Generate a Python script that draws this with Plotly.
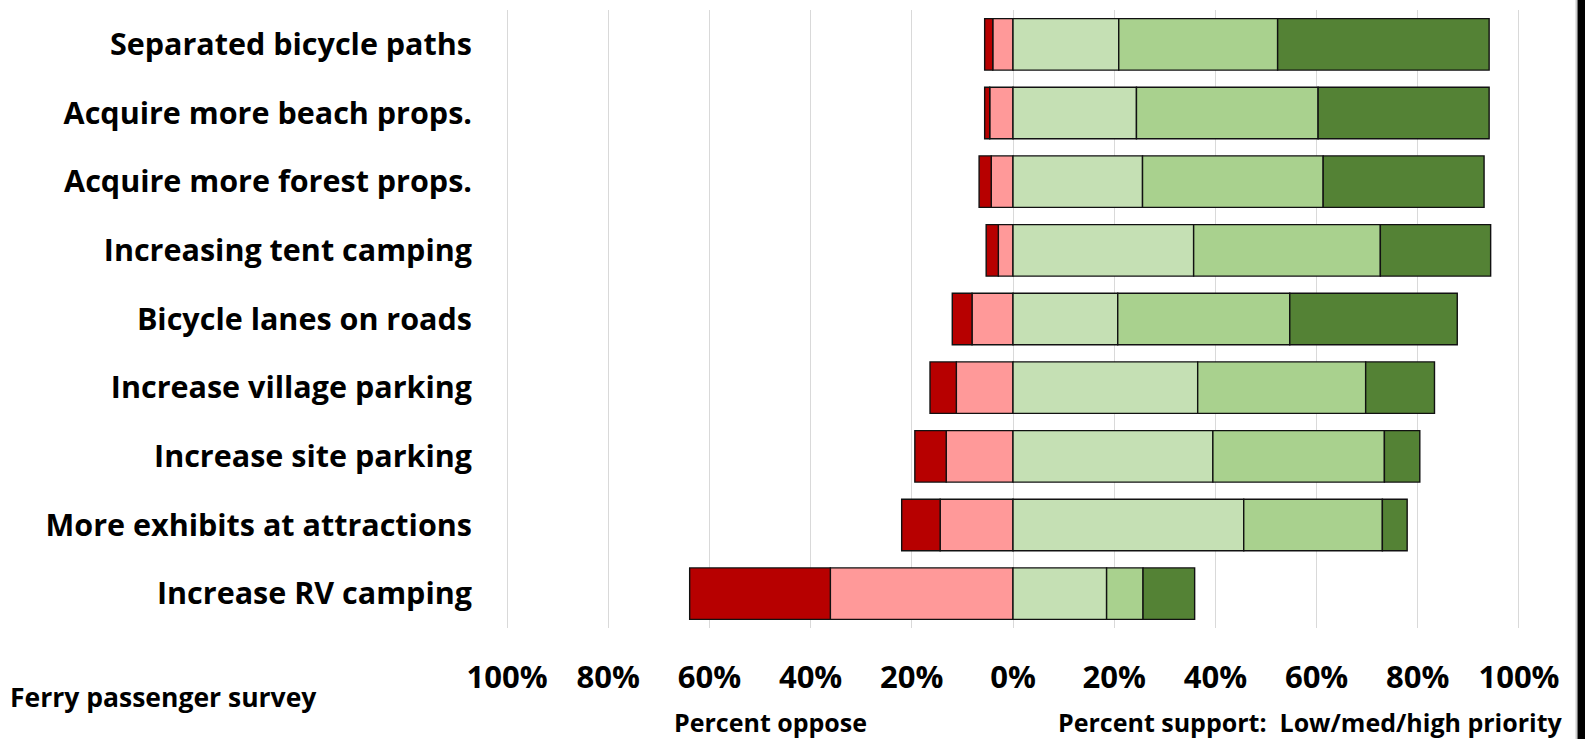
import plotly.graph_objects as go

categories = ["Separated bicycle paths", "Acquire more beach props.", "Acquire more forest props.",
              "Increasing tent camping", "Bicycle lanes on roads", "Increase village parking",
              "Increase site parking", "More exhibits at attractions", "Increase RV camping"]
strong_oppose = [1.6, 1.0, 2.4, 2.4, 3.9, 5.2, 6.2, 7.6, 27.8]
oppose = [4.0, 4.6, 4.3, 2.9, 8.1, 11.2, 13.2, 14.4, 36.1]
support_low = [20.9, 24.4, 25.6, 35.7, 20.7, 36.5, 39.5, 45.6, 18.5]
support_med = [31.4, 35.9, 35.7, 36.9, 34.0, 33.2, 33.9, 27.4, 7.2]
support_high = [41.8, 33.8, 31.8, 21.8, 33.1, 13.6, 7.0, 4.9, 10.2]
tick_vals = [-100, -80, -60, -40, -20, 0, 20, 40, 60, 80, 100]
tick_text = ["100%", "80%", "60%", "40%", "20%", "0%", "20%", "40%", "60%", "80%", "100%"]

FONT = "Open Sans"
W, H = 1585, 739
# plot area in page pixels
PX_L, PX_R, PX_T, PX_B = 506, 1520, 10, 628
L, R, T, B = PX_L, W - PX_R, PX_T, H - PX_B
pw, ph = W - L - R, H - T - B

fig = go.Figure()
series = [
    ("Oppose", [-v for v in oppose], "#FF9999"),
    ("Strongly oppose", [-v for v in strong_oppose], "#B70000"),
    ("Low priority", support_low, "#C5E0B4"),
    ("Medium priority", support_med, "#A9D18E"),
    ("High priority", support_high, "#548235"),
]
for name, vals, col in series:
    fig.add_trace(go.Bar(
        y=categories, x=vals, name=name, orientation="h",
        marker=dict(color=col, line=dict(color="#111111", width=1.4)),
        showlegend=False,
    ))

def py(p):  # page pixel y -> paper
    return (PX_B - p) / ph

def pxx(p):  # page pixel x -> paper
    return (p - PX_L) / pw

fig.update_layout(
    width=W, height=H,
    margin=dict(l=L, r=R, t=T, b=B),
    barmode="relative", bargap=0.25,
    plot_bgcolor="white", paper_bgcolor="white",
    font=dict(family=FONT, color="black"),
    xaxis=dict(range=[-100.2, 100.2], tickvals=tick_vals, ticktext=tick_text,
               showgrid=True, gridcolor="#D9D9D9", gridwidth=1.3, zeroline=False,
               showline=False, ticks="", ticklabelstandoff=28,
               tickfont=dict(family=FONT, size=31, color="black", weight="bold")),
    yaxis=dict(autorange="reversed", showgrid=False, zeroline=False, showline=False,
               ticks="", ticklabelstandoff=33,
               tickfont=dict(family=FONT, size=30.5, color="black", weight="bold")),
    annotations=[
        dict(text="Ferry passenger survey", xref="paper", yref="paper",
             x=pxx(8), y=py(697), xanchor="left", yanchor="middle",
             showarrow=False, font=dict(family=FONT, size=26.5, color="black", weight="bold")),
        dict(text="Percent oppose", xref="paper", yref="paper",
             x=pxx(672), y=py(722), xanchor="left", yanchor="middle",
             showarrow=False, font=dict(family=FONT, size=25, color="black", weight="bold")),
        dict(text="Percent support:  Low/med/high priority", xref="paper", yref="paper",
             x=pxx(1056), y=py(722), xanchor="left", yanchor="middle",
             showarrow=False, font=dict(family=FONT, size=25, color="black", weight="bold")),
    ],
    shapes=[
        dict(type="rect", xref="paper", yref="paper",
             x0=pxx(1575.5), x1=pxx(1577.5),
             y0=py(739), y1=py(0),
             fillcolor="#CCCCCC", line=dict(width=0), layer="above"),
        dict(type="rect", xref="paper", yref="paper",
             x0=pxx(1577.5), x1=pxx(1585),
             y0=py(739), y1=py(0),
             fillcolor="black", line=dict(width=0), layer="above"),
    ],
)

fig.write_html(
    "out.html",
    config={"displayModeBar": False},
    post_script="document.body.style.margin='0';document.body.style.overflow='hidden';",
)
